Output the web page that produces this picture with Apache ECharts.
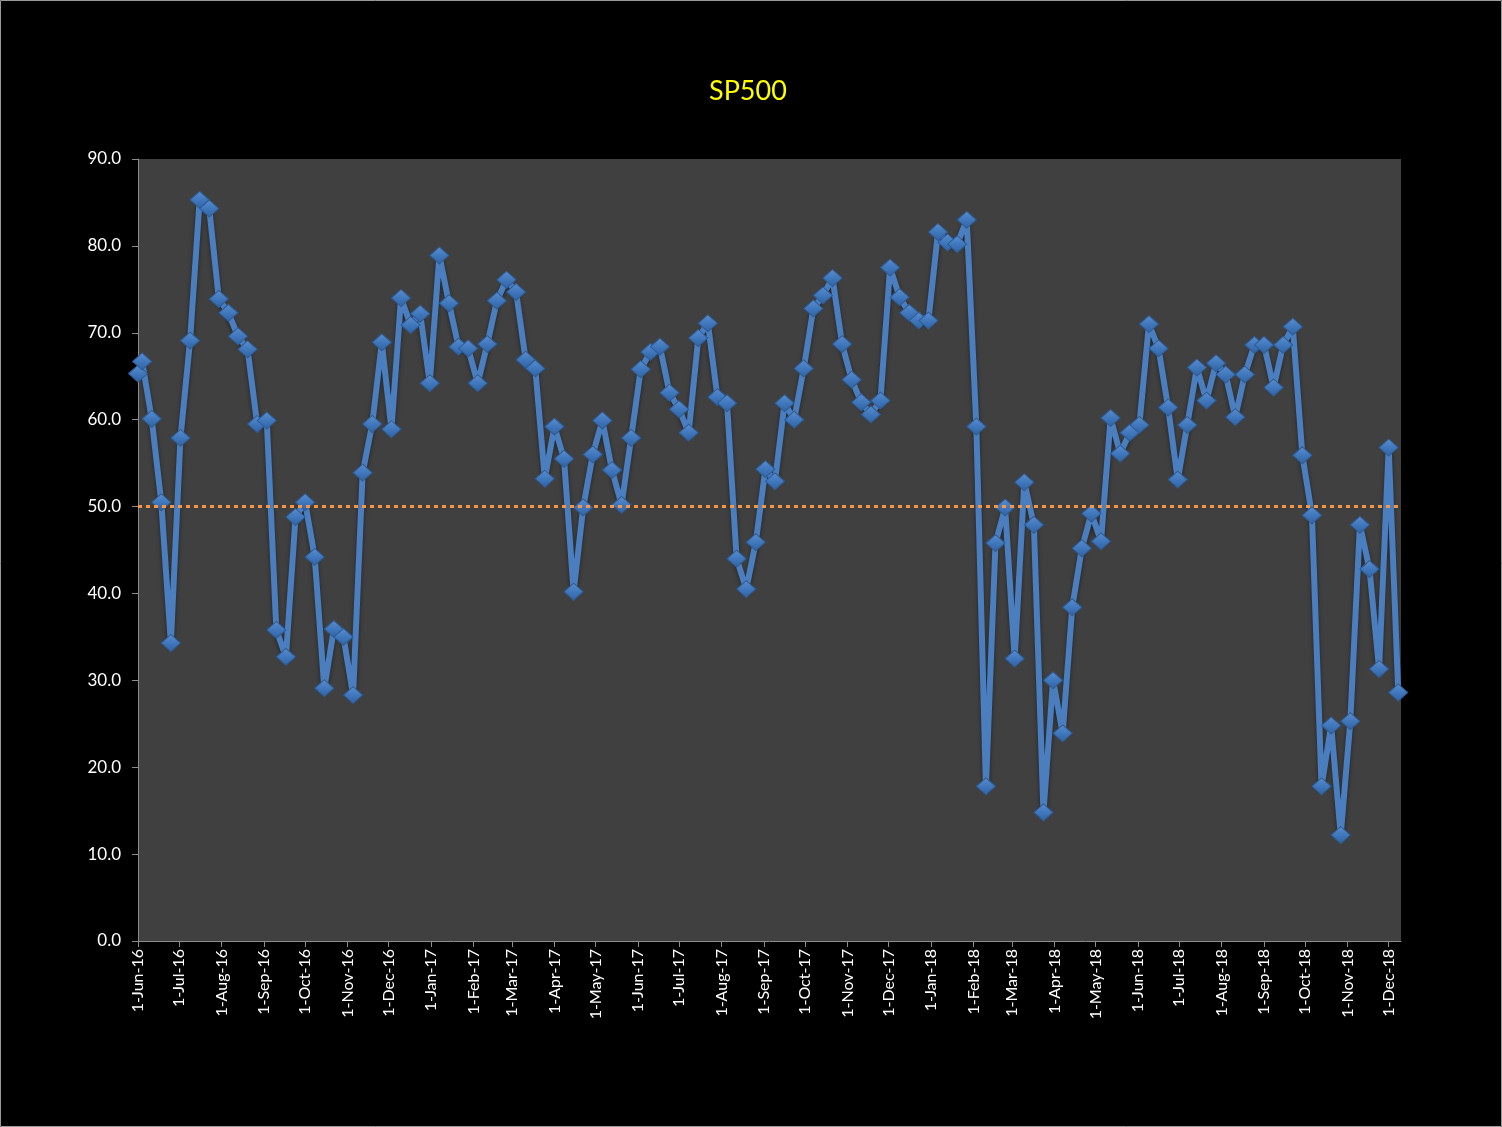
<!DOCTYPE html>
<html>
<head>
<meta charset="utf-8">
<script src="https://cdn.jsdelivr.net/npm/echarts@6/dist/echarts.min.js"></script>
<style>
html,body{margin:0;padding:0;background:#000;}
#chart{width:1502px;height:1127px;}
</style>
</head>
<body>
<div id="chart"></div>
<script>
// Weekly observation dates
const dates = [
 '2016-06-01','2016-06-04','2016-06-11','2016-06-18','2016-06-25','2016-07-02','2016-07-09','2016-07-16','2016-07-23','2016-07-30',
 '2016-08-06','2016-08-13','2016-08-20','2016-08-27','2016-09-03','2016-09-10','2016-09-17','2016-09-24','2016-10-01','2016-10-08',
 '2016-10-15','2016-10-22','2016-10-29','2016-11-05','2016-11-12','2016-11-19','2016-11-26','2016-12-03','2016-12-10','2016-12-17',
 '2016-12-24','2016-12-31','2017-01-07','2017-01-14','2017-01-21','2017-01-28','2017-02-04','2017-02-11','2017-02-18','2017-02-25',
 '2017-03-04','2017-03-11','2017-03-18','2017-03-25','2017-04-01','2017-04-08','2017-04-15','2017-04-22','2017-04-29','2017-05-06',
 '2017-05-13','2017-05-20','2017-05-27','2017-06-03','2017-06-10','2017-06-17','2017-06-24','2017-07-01','2017-07-08','2017-07-15',
 '2017-07-22','2017-07-29','2017-08-05','2017-08-12','2017-08-19','2017-08-26','2017-09-02','2017-09-09','2017-09-16','2017-09-23',
 '2017-09-30','2017-10-07','2017-10-14','2017-10-21','2017-10-28','2017-11-04','2017-11-11','2017-11-18','2017-11-25','2017-12-02',
 '2017-12-09','2017-12-16','2017-12-23','2017-12-30','2018-01-06','2018-01-13','2018-01-20','2018-01-27','2018-02-03','2018-02-10',
 '2018-02-17','2018-02-24','2018-03-03','2018-03-10','2018-03-17','2018-03-24','2018-03-31','2018-04-07','2018-04-14','2018-04-21',
 '2018-04-28','2018-05-05','2018-05-12','2018-05-19','2018-05-26','2018-06-02','2018-06-09','2018-06-16','2018-06-23','2018-06-30',
 '2018-07-07','2018-07-14','2018-07-21','2018-07-28','2018-08-04','2018-08-11','2018-08-18','2018-08-25','2018-09-01','2018-09-08',
 '2018-09-15','2018-09-22','2018-09-29','2018-10-06','2018-10-13','2018-10-20','2018-10-27','2018-11-03','2018-11-10','2018-11-17',
 '2018-11-24','2018-12-01','2018-12-08'
];
// SP500 values
const values = [
 65.3,66.7,60.1,50.5,34.3,57.9,69.1,85.3,84.3,73.9,
 72.3,69.6,68.1,59.5,59.9,35.8,32.7,48.8,50.5,44.2,
 29.1,35.9,35.0,28.3,53.9,59.5,68.9,58.9,74.0,70.9,
 72.2,64.2,78.9,73.4,68.4,68.2,64.2,68.7,73.7,76.1,
 74.7,66.9,65.9,53.2,59.2,55.5,40.2,49.9,56.0,59.9,
 54.2,50.2,57.9,65.8,67.8,68.4,63.1,61.2,58.5,69.4,
 71.1,62.6,61.9,44.0,40.5,45.9,54.3,52.9,61.9,60.0,
 65.9,72.8,74.3,76.3,68.7,64.6,62.0,60.6,62.2,77.5,
 74.1,72.3,71.4,71.4,81.6,80.4,80.2,83.0,59.2,17.8,
 45.8,49.9,32.5,52.8,47.9,14.8,30.0,23.9,38.4,45.2,
 49.2,46.0,60.2,56.1,58.5,59.4,71.0,68.2,61.4,53.1,
 59.4,66.0,62.2,66.5,65.2,60.3,65.2,68.6,68.6,63.7,
 68.6,70.7,55.9,49.0,17.8,24.8,12.2,25.3,47.9,42.8,
 31.3,56.8,28.6
];
// Reference level
const refLevel = 50;
// Month tick positions (labels)
const monthTicks = [
 '2016-06-01','2016-07-01','2016-08-01','2016-09-01','2016-10-01','2016-11-01','2016-12-01',
 '2017-01-01','2017-02-01','2017-03-01','2017-04-01','2017-05-01','2017-06-01','2017-07-01',
 '2017-08-01','2017-09-01','2017-10-01','2017-11-01','2017-12-01','2018-01-01','2018-02-01',
 '2018-03-01','2018-04-01','2018-05-01','2018-06-01','2018-07-01','2018-08-01','2018-09-01',
 '2018-10-01','2018-11-01','2018-12-01'
];
const yTicks = [0,10,20,30,40,50,60,70,80,90];

const MONTHS = ['Jan','Feb','Mar','Apr','May','Jun','Jul','Aug','Sep','Oct','Nov','Dec'];
function toTs(s){ const p = s.split('-').map(Number); return Date.UTC(p[0], p[1]-1, p[2]); }
function fmtDate(v){ const d = new Date(v); return d.getUTCDate() + '-' + MONTHS[d.getUTCMonth()] + '-' + String(d.getUTCFullYear()).slice(2); }

const tickTs = monthTicks.map(toTs);
const seriesData = dates.map((d,i)=>[toTs(d), values[i]]);

const chart = echarts.init(document.getElementById('chart'), null, {renderer:'canvas'});
chart.setOption({
  backgroundColor: '#000000',
  animation: false,
  textStyle: { fontFamily: 'Lato, "Open Sans", sans-serif' },
  title: {
    text: 'SP500', left: 704, top: 73,
    textStyle: { color: '#FFFF00', fontSize: 27, fontWeight: 'normal', fontFamily: 'Lato, sans-serif' }
  },
  graphic: [{
    type: 'rect', silent: true, z: -10,
    shape: { x: 0.5, y: 0.5, width: 1501, height: 1126 },
    style: { fill: 'none', stroke: '#9a9a9a', lineWidth: 1 }
  }],
  grid: {
    left: 138, right: 101, top: 159, bottom: 186,
    show: true, backgroundColor: '#404040', borderWidth: 0
  },
  xAxis: {
    type: 'value',
    min: toTs('2016-06-01'),
    max: toTs('2018-12-10'),
    scale: true,
    splitLine: { show: false },
    axisLine: { show: true, onZero: false, lineStyle: { color: '#8c8c8c', width: 1 } },
    axisTick: { show: true, length: 6, lineStyle: { color: '#8c8c8c' }, customValues: tickTs },
    axisLabel: {
      customValues: tickTs,
      rotate: 90, color: '#FFFFFF', fontSize: 16, margin: 8,
      formatter: function(v){ return fmtDate(v); }
    }
  },
  yAxis: {
    type: 'value', min: 0, max: 90, interval: 10,
    splitLine: { show: false },
    axisLine: { show: true, lineStyle: { color: '#8c8c8c', width: 1 } },
    axisTick: { show: true, length: 6, lineStyle: { color: '#8c8c8c' } },
    axisLabel: {
      color: '#FFFFFF', fontSize: 17, margin: 17,
      formatter: function(v){ return yTicks.indexOf(v) >= 0 ? v.toFixed(1) : ''; }
    }
  },
  series: [{
    type: 'line',
    data: seriesData,
    symbol: 'diamond',
    symbolSize: [19, 17],
    showAllSymbol: true,
    clip: false,
    lineStyle: { color: '#4A7EBF', width: 6, shadowColor: 'rgba(0,0,0,0.45)', shadowBlur: 4, shadowOffsetY: 2 },
    itemStyle: {
      color: {
        type: 'linear', x: 0, y: 0, x2: 0, y2: 1,
        colorStops: [{offset:0, color:'#5A8ED0'},{offset:0.5, color:'#4178BC'},{offset:1, color:'#2F62A3'}]
      },
      borderColor: '#2D5C98', borderWidth: 1
    },
    markLine: {
      silent: true,
      symbol: ['none','none'],
      label: { show: false },
      lineStyle: { color: '#F79646', type: [4, 4], width: 3 },
      data: [{ yAxis: refLevel }]
    },
    z: 3
  }]
});
</script>
</body>
</html>
